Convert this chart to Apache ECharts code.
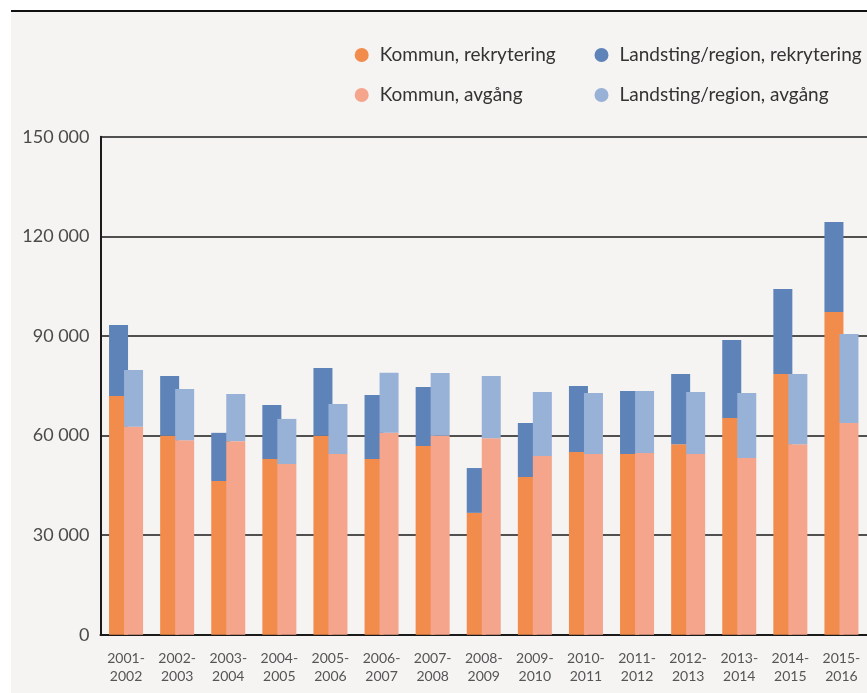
<!DOCTYPE html>
<html>
<head>
<meta charset="utf-8">
<script src="https://cdn.jsdelivr.net/npm/echarts@6/dist/echarts.min.js"></script>
<style>
html,body{margin:0;padding:0;background:#ffffff;}
#chart{width:867px;height:693px;}
</style>
</head>
<body>
<div id="chart"></div>
<script>
// Data
const categories = ['2001-\n2002','2002-\n2003','2003-\n2004','2004-\n2005','2005-\n2006','2006-\n2007','2007-\n2008','2008-\n2009','2009-\n2010','2010-\n2011','2011-\n2012','2012-\n2013','2013-\n2014','2014-\n2015','2015-\n2016'];
const kommunRekrytering    = [71900, 59900, 46300, 52900, 59900, 52900, 56800, 36700, 47500, 55000, 54400, 57400, 65300, 78500, 97200];
const landstingRekrytering = [21400, 18000, 14500, 16300, 20400, 19300, 17800, 13500, 16300, 19900, 19000, 21100, 23500, 25600, 27100];
const kommunAvgang         = [62600, 58600, 58300, 51400, 54400, 60800, 59900, 59200, 53800, 54400, 54700, 54400, 53200, 57400, 63800];
const landstingAvgang      = [17100, 15400, 14200, 13600, 15100, 18100, 18900, 18700, 19300, 18400, 18700, 18700, 19600, 21100, 26800];
const yTicks = [0, 30000, 60000, 90000, 120000, 150000];

const names = ['Kommun, rekrytering','Landsting/region, rekrytering','Kommun, avgång','Landsting/region, avgång'];
const colors = ['#f28c4d','#5e83b9','#f4a58b','#98b1d7'];

const chart = echarts.init(document.getElementById('chart'));
const FONT = 'Lato';

function fmt(v){ return String(v).replace(/\B(?=(\d{3})+(?!\d))/g,' '); }

const legendCommon = {
  orient: 'vertical',
  top: 40.5,
  itemWidth: 14,
  itemHeight: 14,
  itemGap: 21,
  icon: 'circle',
  textStyle: { fontFamily: FONT, fontSize: 19, color: '#333333', padding: [0,0,0,6] }
};

const option = {
  backgroundColor: 'transparent',
  animation: false,
  graphic: [
    { type: 'rect', z: -10, silent: true, shape: { x: 11, y: 12, width: 870, height: 690 }, style: { fill: '#f5f4f2' } },
    { type: 'line', z: -9, silent: true, shape: { x1: 11, y1: 11, x2: 867, y2: 11 }, style: { stroke: '#111111', lineWidth: 1.8 } }
  ],
  legend: [
    Object.assign({}, legendCommon, { left: 349.7, data: [names[0], names[2]] }),
    Object.assign({}, legendCommon, { left: 589.5, data: [names[1], names[3]] })
  ],
  grid: { left: 100.5, right: 0, top: 136.7, bottom: 58.3, containLabel: false },
  xAxis: {
    type: 'category',
    data: categories,
    axisTick: { show: false },
    axisLine: { show: true, lineStyle: { color: '#1a1a1a', width: 2 } },
    axisLabel: { fontFamily: FONT, fontSize: 14, color: '#555555', lineHeight: 18, margin: 15, interval: 0 }
  },
  yAxis: {
    type: 'value',
    min: yTicks[0],
    max: yTicks[yTicks.length-1],
    interval: 30000,
    axisLine: { show: true, lineStyle: { color: '#1a1a1a', width: 2 } },
    axisTick: { show: false },
    splitLine: { show: true, lineStyle: { color: '#1a1a1a', width: 1.5 } },
    axisLabel: { fontFamily: FONT, fontSize: 18, color: '#4a4a4a', margin: 11, formatter: fmt }
  },
  series: [
    { name: names[0], type: 'bar', stack: 'r', data: kommunRekrytering, barWidth: 19, barGap: '-21%', itemStyle: { color: colors[0] } },
    { name: names[1], type: 'bar', stack: 'r', data: landstingRekrytering, barWidth: 19, barGap: '-21%', itemStyle: { color: colors[1] } },
    { name: names[2], type: 'bar', stack: 'a', data: kommunAvgang, barWidth: 19, barGap: '-21%', itemStyle: { color: colors[2] } },
    { name: names[3], type: 'bar', stack: 'a', data: landstingAvgang, barWidth: 19, barGap: '-21%', itemStyle: { color: colors[3] } }
  ]
};
chart.setOption(option);
</script>
</body>
</html>
